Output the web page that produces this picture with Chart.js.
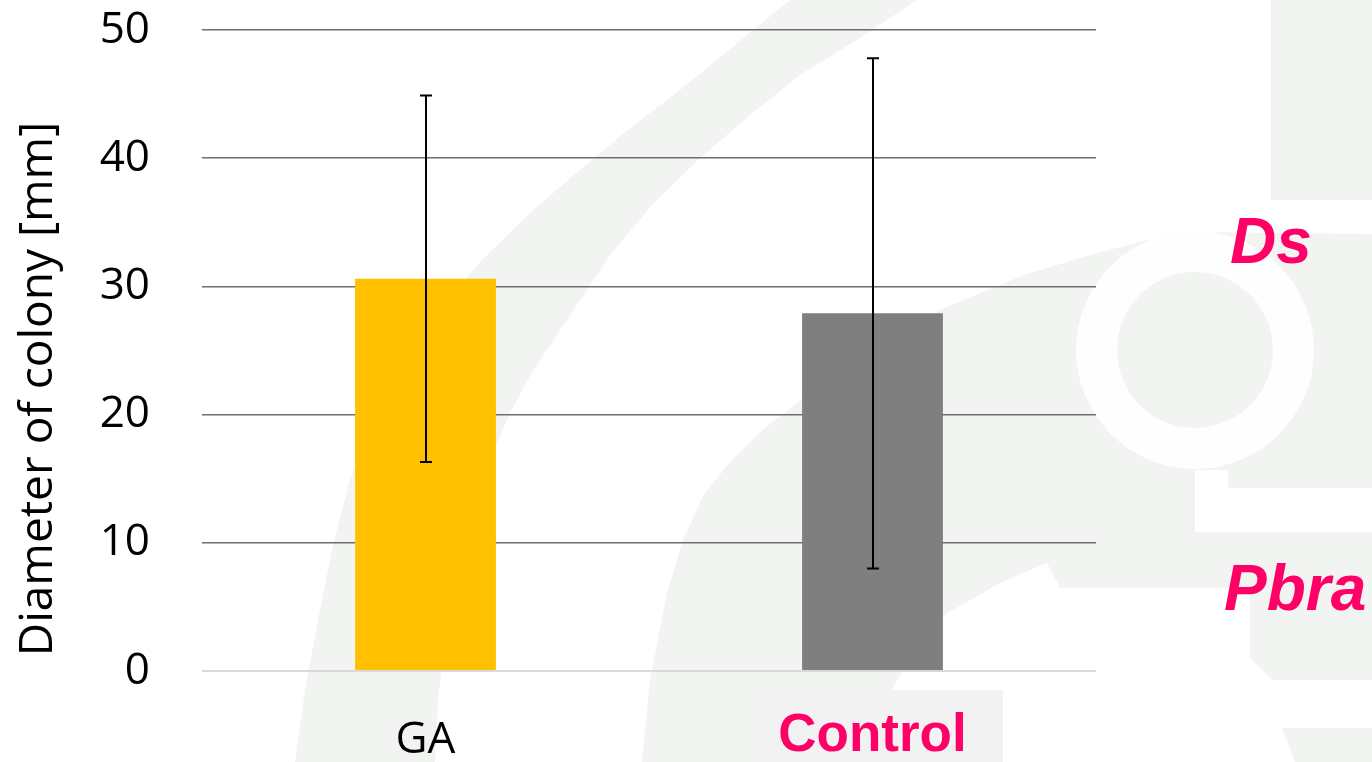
<!DOCTYPE html>
<html>
<head>
<meta charset="utf-8">
<script src="https://cdn.jsdelivr.net/npm/chart.js@4"></script>
<style>
  html, body { margin: 0; padding: 0; background: #ffffff; }
  #chart { display: block; }
</style>
</head>
<body>
<canvas id="chart" width="1372" height="762"></canvas>
<script>
// colony diameters (mm), mean and standard deviation
var categories = ['GA', 'Control'];
var means = [30.6, 27.9];
var errors = [14.3, 19.9];
var barColors = ['#FFC000', '#7F7F7F'];
var yTicks = [0, 10, 20, 30, 40, 50];

var PINK = '#FF0066';
var SHADE = '#F1F4F1';

function fillPoly(ctx, pts) {
    ctx.beginPath();
    ctx.moveTo(pts[0][0], pts[0][1]);
    for (var i = 1; i < pts.length; i++) ctx.lineTo(pts[i][0], pts[i][1]);
    ctx.closePath();
    ctx.fill();
}

// faint logo shapes behind the plot + box behind the "Control" label
var backdrop = {
    id: 'backdrop',
    beforeDraw: function (chart) {
        var ctx = chart.ctx;
        ctx.save();
        ctx.fillStyle = '#ffffff';
        ctx.fillRect(0, 0, chart.width, chart.height);
        ctx.fillStyle = SHADE;

        // outer arc band
        fillPoly(ctx, [
            [295, 762], [305, 690], [318, 620], [333, 545], [350, 480], [375, 415], [405, 360],
            [440, 308], [480, 262], [530, 213], [580, 170], [630, 128], [680, 90], [735, 45], [790, 0],
            [917, 0], [860, 38], [800, 75], [750, 115], [700, 158], [652, 205], [610, 255],
            [560, 330], [532, 372], [510, 413], [488, 465], [470, 520], [456, 580], [445, 640], [438, 700], [435, 762]
        ]);

        // inner arc band running into the ring block
        fillPoly(ctx, [
            [642, 762], [650, 680], [667, 593], [683, 540], [703, 496], [730, 462], [760, 432], [810, 393],
            [880, 345], [946, 307], [1024, 275], [1090, 255], [1147, 240], [1195, 232], [1372, 234],
            [1372, 488], [1228, 488], [1228, 470], [1195, 470], [1195, 532], [1372, 532],
            [1372, 680], [1272, 680], [1250, 658], [1250, 588], [1060, 588], [1047, 563],
            [1000, 583], [946, 614], [915, 650], [892, 689], [872, 730], [860, 762]
        ]);

        // right-hand blocks
        ctx.fillRect(1271, 0, 101, 200);
        fillPoly(ctx, [[1282, 728], [1372, 728], [1372, 762], [1295, 762]]);

        // ring
        ctx.fillStyle = '#fefefe';
        ctx.beginPath();
        ctx.arc(1195, 350, 119, 0, Math.PI * 2);
        ctx.fill();
        ctx.fillStyle = SHADE;
        ctx.beginPath();
        ctx.arc(1195, 350, 78, 0, Math.PI * 2);
        ctx.fill();

        // label box
        ctx.fillStyle = '#F2F2F2';
        ctx.fillRect(764, 690, 239, 72);
        ctx.restore();
    },
    afterDraw: function (chart) {
        var ctx = chart.ctx;
        ctx.save();
        // y axis title
        ctx.translate(39, 389);
        ctx.rotate(-Math.PI / 2);
        ctx.fillStyle = '#000000';
        ctx.font = '46px "Open Sans"';
        ctx.textAlign = 'center';
        ctx.textBaseline = 'middle';
        ctx.fillText('Diameter of colony [mm]', 0, 0);
        ctx.restore();

        ctx.save();
        ctx.fillStyle = PINK;
        ctx.font = 'italic bold 64px "Liberation Sans"';
        ctx.textAlign = 'left';
        ctx.textBaseline = 'alphabetic';
        ctx.fillText('Ds', 1230, 263);
        ctx.fillText('Pbra', 1224, 610);
        ctx.restore();
    }
};

// standard deviation whiskers
var errorBars = {
    id: 'errorBars',
    afterDatasetsDraw: function (chart) {
        var ctx = chart.ctx;
        var yScale = chart.scales.y;
        var meta = chart.getDatasetMeta(0);
        ctx.save();
        ctx.strokeStyle = '#000000';
        ctx.lineWidth = 2;
        meta.data.forEach(function (bar, i) {
            var x = Math.round(bar.x);
            var top = yScale.getPixelForValue(means[i] + errors[i]);
            var bottom = yScale.getPixelForValue(means[i] - errors[i]);
            ctx.beginPath();
            ctx.moveTo(x, top);
            ctx.lineTo(x, bottom);
            ctx.moveTo(x - 6, top);
            ctx.lineTo(x + 6, top);
            ctx.moveTo(x - 6, bottom);
            ctx.lineTo(x + 6, bottom);
            ctx.stroke();
        });
        ctx.restore();
    }
};

var ctx = document.getElementById('chart').getContext('2d');
var chart = new Chart(ctx, {
    type: 'bar',
    data: {
        labels: categories,
        datasets: [{
            data: means,
            backgroundColor: barColors,
            borderWidth: 0,
            categoryPercentage: 1,
            barPercentage: 0.315
        }]
    },
    options: {
        responsive: false,
        animation: false,
        layout: { padding: { top: 30, right: 276, bottom: 0, left: 0 } },
        plugins: {
            legend: { display: false },
            tooltip: { enabled: false }
        },
        scales: {
            x: {
                grid: { display: false, drawTicks: false },
                border: { display: false },
                afterFit: function (scale) { scale.height = 91; },
                ticks: {
                    padding: 43,
                    color: function (c) { return c.index === 1 ? PINK : '#000000'; },
                    font: function (c) {
                        return c.index === 1
                            ? { family: '"Liberation Sans"', size: 53, weight: 'bold', lineHeight: 0.84 }
                            : { family: '"Open Sans"', size: 44 };
                    }
                }
            },
            y: {
                min: yTicks[0],
                max: yTicks[yTicks.length - 1],
                afterFit: function (scale) {
                    scale.width = 202;
                    scale.paddingTop = 0;
                    scale.paddingBottom = 0;
                },
                afterBuildTicks: function (scale) {
                    scale.ticks = yTicks.map(function (v) { return { value: v }; });
                },
                border: { display: false },
                grid: {
                    drawTicks: false,
                    lineWidth: function (c) { return c.tick && c.tick.value === 0 ? 2 : 1.4; },
                    color: function (c) { return c.tick && c.tick.value === 0 ? '#D9D9D9' : '#6E6E6E'; }
                },
                ticks: {
                    padding: 52,
                    color: '#000000',
                    font: { family: '"Open Sans"', size: 44 }
                }
            }
        }
    },
    plugins: [backdrop, errorBars]
});
</script>
</body>
</html>
